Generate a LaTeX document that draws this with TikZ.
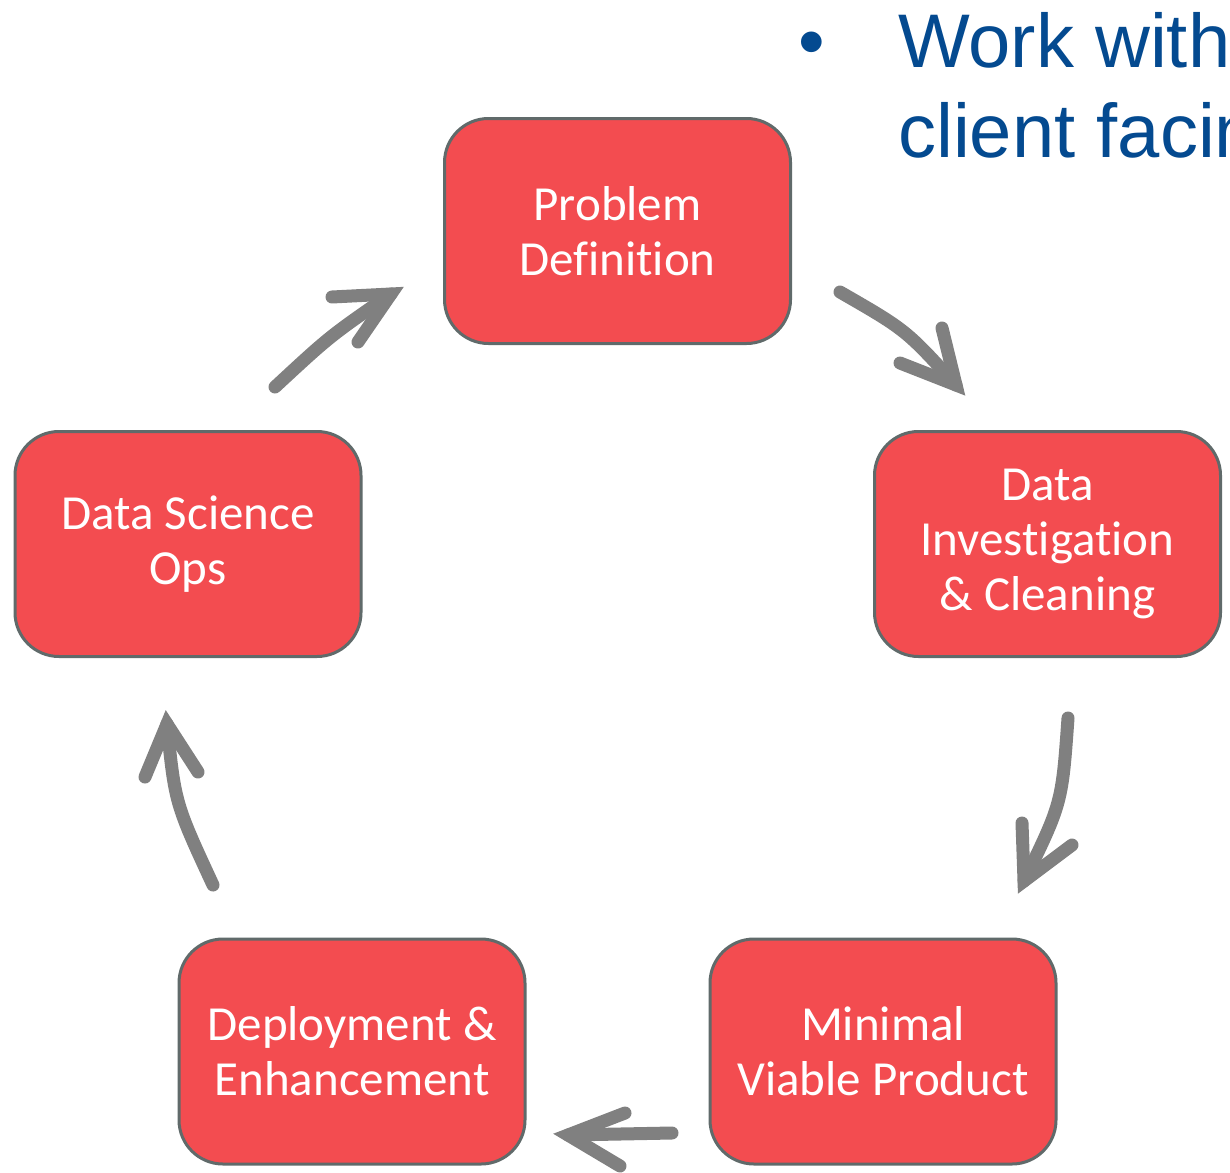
\documentclass[tikz,border=0pt]{standalone}
\usepackage{fontspec}
\newfontfamily\carlito[Ligatures=NoCommon]{Carlito}
\newfontfamily\arialfont{Liberation Sans}
\definecolor{boxred}{RGB}{243,76,80}
\definecolor{boxgray}{RGB}{96,106,106}
\definecolor{arrowgray}{RGB}{128,128,128}
\definecolor{slideblue}{RGB}{4,74,144}
\tikzset{
  stage/.style={rectangle, rounded corners=44pt, fill=boxred, draw=boxgray, line width=3pt,
    minimum width=346pt, minimum height=225pt, inner sep=0pt, align=center, text=white,
    font=\carlito\fontsize{49}{55}\selectfont},
  flow/.style={draw=arrowgray, line width=13pt, line cap=round},
  chev/.style={flow, line join=miter},
  slidetext/.style={text=slideblue, font=\arialfont\fontsize{76}{90}\selectfont, inner sep=0pt, anchor=base west}
}
\begin{document}
\begin{tikzpicture}[x=1pt,y=-1pt]
\useasboundingbox (0,0) rectangle (1230,1172);
\clip (0,0) rectangle (1230,1172);
\fill[white] (0,0) rectangle (1230,1172);
% stages
\node[stage] (pd) at (617.5,231) {Problem\\Definition};
\node[stage] (di) at (1047.5,544) {Data\\Investigation\\\& Cleaning};
\node[stage] (mv) at (883,1051.5) {Minimal\\Viable Product};
\node[stage] (de) at (352,1051.5) {Deployment \&\\Enhancement};
\node[stage] (ds) at (188,544) {Data Science\\Ops};
% arrow 1: pd -> di
\coordinate (a1s) at (840,292);
\coordinate (a1t) at (956,385);
\coordinate (a1l) at (942,328);
\coordinate (a1r) at (900,363);
\draw[flow] (a1s) .. controls (906,330) .. (a1t);
\draw[chev] (a1l) -- (a1t) -- (a1r);
% arrow 2: di -> mv
\coordinate (a2s) at (1068,718);
\coordinate (a2t) at (1024,881);
\coordinate (a2l) at (1022,823);
\coordinate (a2r) at (1072,845);
\draw[flow] (a2s) .. controls (1062,803) .. (a2t);
\draw[chev] (a2l) -- (a2t) -- (a2r);
% arrow 3: mv -> de
\coordinate (a3s) at (672,1133);
\coordinate (a3t) at (568,1135);
\coordinate (a3l) at (625,1113);
\coordinate (a3r) at (620,1166);
\draw[flow] (a3s) -- (a3t);
\draw[chev] (a3l) -- (a3t) -- (a3r);
% arrow 4: de -> ds
\coordinate (a4s) at (213,885);
\coordinate (a4t) at (167,724);
\coordinate (a4l) at (145,777);
\coordinate (a4r) at (198,772);
\draw[flow] (a4s) .. controls (175,803) .. (a4t);
\draw[chev] (a4l) -- (a4t) -- (a4r);
% arrow 5: ds -> pd
\coordinate (a5s) at (275,387);
\coordinate (a5t) at (391,294);
\coordinate (a5l) at (332,297);
\coordinate (a5r) at (358,342);
\draw[flow] (a5s) .. controls (330,336) .. (a5t);
\draw[chev] (a5l) -- (a5t) -- (a5r);
% slide text
\node[slidetext] (bul) at (798,67) {•};
\node[slidetext] (l1) at (898,67) {Work with};
\node[slidetext] (l2) at (898,157) {client facing};
\end{tikzpicture}
\end{document}
